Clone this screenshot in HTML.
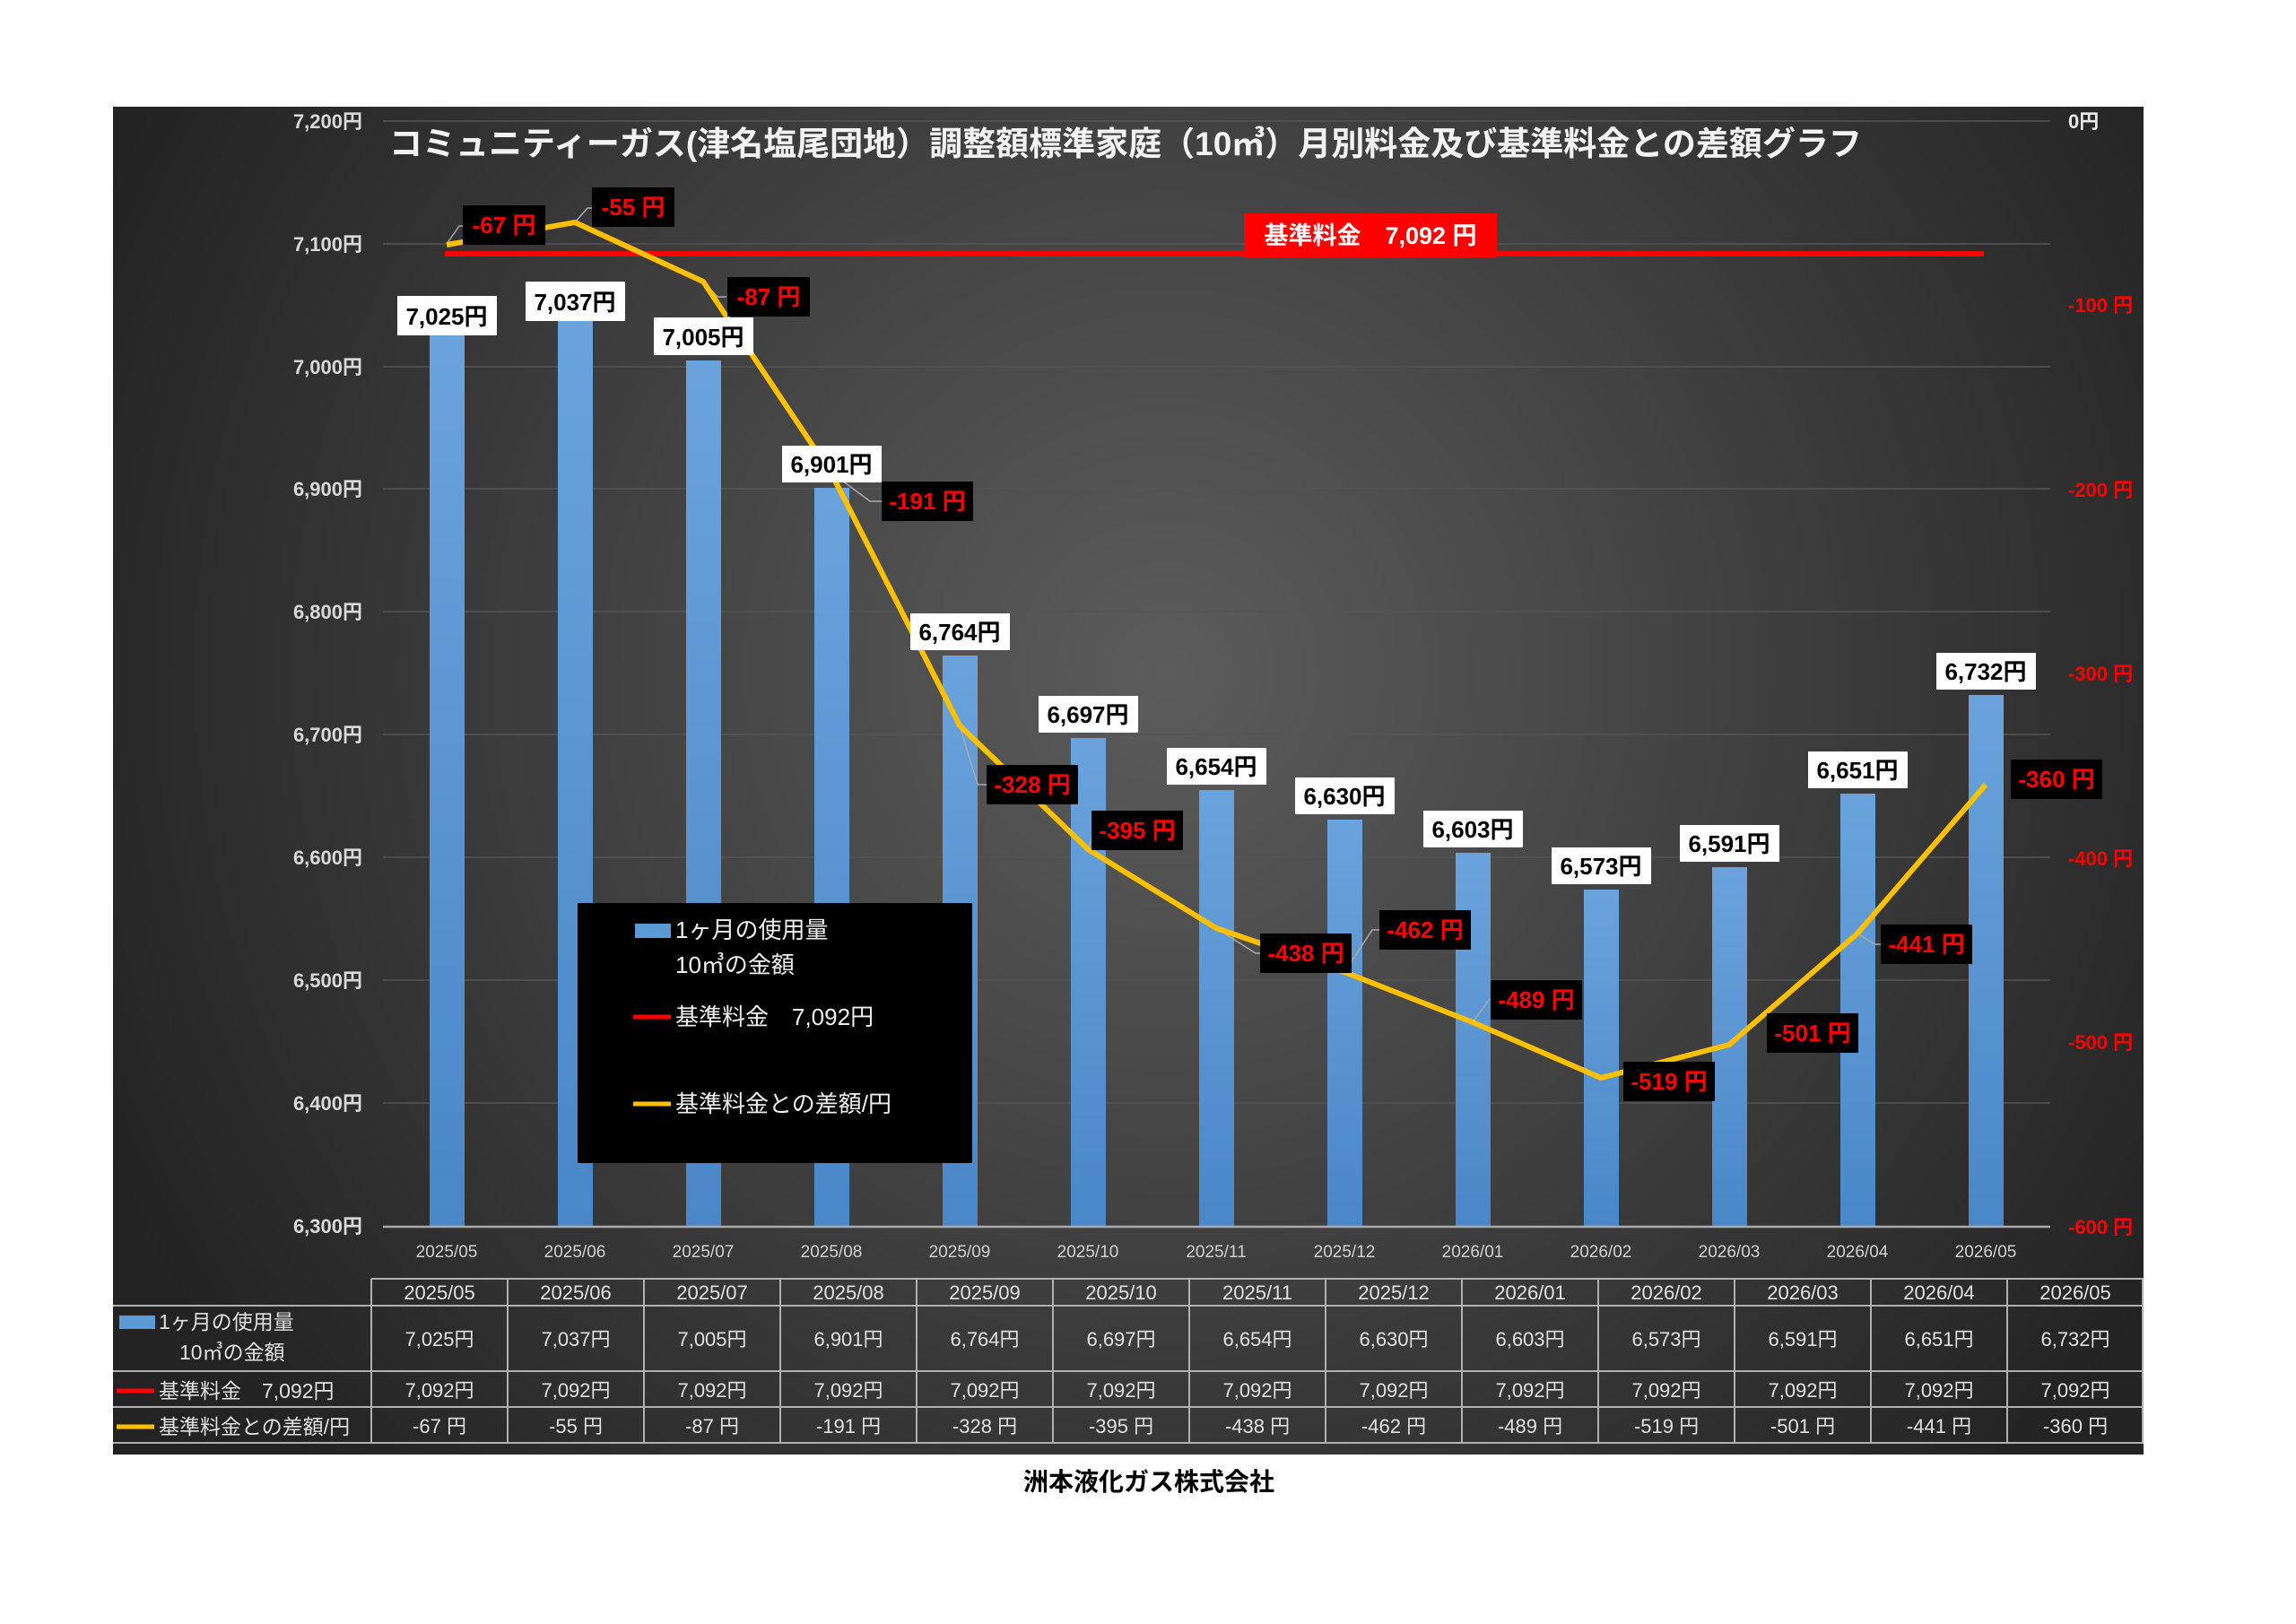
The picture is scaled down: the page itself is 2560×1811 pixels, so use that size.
<!DOCTYPE html>
<html><head><meta charset="utf-8"><style>
html,body{margin:0;padding:0;background:#fff}
svg{display:block}
text{font-family:"Liberation Sans","Noto Sans CJK JP",sans-serif}
</style></head><body>
<svg width="2560" height="1811" viewBox="0 0 2560 1811" xmlns="http://www.w3.org/2000/svg">
<defs>
<radialGradient id="bg" cx="1300" cy="750" r="1300" gradientUnits="userSpaceOnUse">
<stop offset="0" stop-color="#5c5c5c"/><stop offset="0.6" stop-color="#3a3a3a"/><stop offset="1" stop-color="#232323"/>
</radialGradient>
<linearGradient id="bar" x1="0" y1="0" x2="0" y2="1"><stop offset="0" stop-color="#6aa3dc"/><stop offset="1" stop-color="#4a87c8"/></linearGradient>
</defs>
<rect x="126" y="119" width="2264" height="1503" fill="url(#bg)"/>
<g stroke="#555" stroke-width="1.5">
<line x1="427" y1="135" x2="2286" y2="135"/><line x1="427" y1="272" x2="2286" y2="272"/>
<line x1="427" y1="409" x2="2286" y2="409"/><line x1="427" y1="545" x2="2286" y2="545"/>
<line x1="427" y1="682" x2="2286" y2="682"/><line x1="427" y1="819" x2="2286" y2="819"/>
<line x1="427" y1="956" x2="2286" y2="956"/><line x1="427" y1="1093" x2="2286" y2="1093"/>
<line x1="427" y1="1230" x2="2286" y2="1230"/>
</g>
<g fill="#d9d9d9" font-size="22" font-weight="bold" text-anchor="end">
<text x="404" y="143">7,200円</text><text x="404" y="280">7,100円</text><text x="404" y="417">7,000円</text>
<text x="404" y="553">6,900円</text><text x="404" y="690">6,800円</text><text x="404" y="827">6,700円</text>
<text x="404" y="964">6,600円</text><text x="404" y="1101">6,500円</text><text x="404" y="1238">6,400円</text>
<text x="404" y="1375">6,300円</text>
</g>
<g fill="#ff0000" font-size="22" font-weight="bold" text-anchor="start">
<text x="2306" y="143" fill="#e8e8e8">0円</text><text x="2306" y="348">-100 円</text><text x="2306" y="554">-200 円</text>
<text x="2306" y="759">-300 円</text><text x="2306" y="965">-400 円</text><text x="2306" y="1170">-500 円</text>
<text x="2306" y="1376">-600 円</text>
</g>
<text x="1255" y="173" fill="#f2f2f2" font-size="37" font-weight="bold" text-anchor="middle">コミュニティーガス(津名塩尾団地）調整額標準家庭（10㎥）月別料金及び基準料金との差額グラフ</text>
<g fill="url(#bar)">
<rect x="479" y="374" width="39" height="994"/>
<rect x="622" y="358" width="39" height="1010"/>
<rect x="765" y="402" width="39" height="966"/>
<rect x="908" y="544" width="39" height="824"/>
<rect x="1051" y="731" width="39" height="637"/>
<rect x="1194" y="823" width="39" height="545"/>
<rect x="1337" y="881" width="39" height="487"/>
<rect x="1480" y="914" width="39" height="454"/>
<rect x="1623" y="951" width="39" height="417"/>
<rect x="1766" y="992" width="39" height="376"/>
<rect x="1909" y="967" width="39" height="401"/>
<rect x="2052" y="885" width="39" height="483"/>
<rect x="2195" y="775" width="39" height="593"/>
</g>
<line x1="427" y1="1368" x2="2286" y2="1368" stroke="#aaa" stroke-width="2.5"/>
<g fill="#d0d0d0" font-size="19" text-anchor="middle">
<text x="498" y="1402">2025/05</text><text x="641" y="1402">2025/06</text><text x="784" y="1402">2025/07</text>
<text x="927" y="1402">2025/08</text><text x="1070" y="1402">2025/09</text><text x="1213" y="1402">2025/10</text>
<text x="1356" y="1402">2025/11</text><text x="1499" y="1402">2025/12</text><text x="1642" y="1402">2026/01</text>
<text x="1785" y="1402">2026/02</text><text x="1928" y="1402">2026/03</text><text x="2071" y="1402">2026/04</text>
<text x="2214" y="1402">2026/05</text>
</g>
<line x1="496" y1="283" x2="2212" y2="283" stroke="#ff0000" stroke-width="6"/>
<rect x="1387" y="238" width="282" height="49" fill="#ff0000"/>
<text x="1528" y="272" fill="#fff" font-size="27" font-weight="bold" text-anchor="middle">基準料金　7,092 円</text>
<g stroke="#aaa" stroke-width="1.5" fill="none">
<polyline points="498,272 512,252 520,252"/>
<polyline points="641,248 655,232 662,232"/>
<polyline points="784,314 800,331 810,331"/>
<polyline points="927,527 970,559 985,559"/>
<polyline points="1070,809 1090,875 1104,875"/>
<polyline points="1213,947 1220,926"/>
<polyline points="1356,1035 1400,1063 1409,1063"/>
<polyline points="1499,1084 1530,1037 1542,1037"/>
<polyline points="1642,1140 1660,1115 1666,1115"/>
<polyline points="2071,1041 2090,1053 2100,1053"/>
</g>
<polyline fill="none" stroke="#ffc000" stroke-width="6" stroke-linejoin="round" points="498,273 641,248 784,314 927,528 1070,809 1213,947 1356,1035 1499,1084 1642,1140 1785,1202 1928,1165 2071,1041 2214,875"/>
<g font-size="26" font-weight="bold" text-anchor="middle">
<g fill="#fff">
<rect x="443" y="330" width="111" height="44"/><rect x="586" y="314" width="111" height="44"/>
<rect x="729" y="354" width="111" height="42"/><rect x="872" y="497" width="111" height="41"/>
<rect x="1015" y="684" width="111" height="41"/><rect x="1158" y="776" width="111" height="41"/>
<rect x="1301" y="834" width="111" height="41"/><rect x="1444" y="867" width="111" height="41"/>
<rect x="1587" y="904" width="111" height="41"/><rect x="1730" y="945" width="111" height="41"/>
<rect x="1873" y="920" width="111" height="41"/><rect x="2016" y="838" width="111" height="41"/>
<rect x="2159" y="728" width="111" height="41"/>
</g>
<g fill="#000">
<text x="498" y="362">7,025円</text><text x="641" y="346">7,037円</text><text x="784" y="385">7,005円</text>
<text x="927" y="527">6,901円</text><text x="1070" y="714">6,764円</text><text x="1213" y="806">6,697円</text>
<text x="1356" y="864">6,654円</text><text x="1499" y="897">6,630円</text><text x="1642" y="934">6,603円</text>
<text x="1785" y="975">6,573円</text><text x="1928" y="950">6,591円</text><text x="2071" y="868">6,651円</text>
<text x="2214" y="758">6,732円</text>
</g>
</g>
<g font-size="26" font-weight="bold" text-anchor="middle">
<g fill="#000">
<rect x="516" y="229" width="92" height="44"/><rect x="660" y="209" width="92" height="44"/>
<rect x="811" y="309" width="92" height="44"/><rect x="983" y="537" width="102" height="44"/>
<rect x="1100" y="853" width="102" height="44"/><rect x="1217" y="904" width="102" height="44"/>
<rect x="1405" y="1041" width="102" height="44"/><rect x="1538" y="1015" width="102" height="44"/>
<rect x="1662" y="1093" width="102" height="44"/><rect x="1810" y="1184" width="102" height="44"/>
<rect x="1970" y="1130" width="102" height="44"/><rect x="2097" y="1031" width="102" height="44"/>
<rect x="2242" y="847" width="102" height="44"/>
</g>
<g fill="#ff0000">
<text x="562" y="260">-67 円</text><text x="706" y="240">-55 円</text><text x="857" y="340">-87 円</text>
<text x="1034" y="568">-191 円</text><text x="1151" y="884">-328 円</text><text x="1268" y="935">-395 円</text>
<text x="1456" y="1072">-438 円</text><text x="1589" y="1046">-462 円</text><text x="1713" y="1124">-489 円</text>
<text x="1861" y="1215">-519 円</text><text x="2021" y="1161">-501 円</text><text x="2148" y="1062">-441 円</text>
<text x="2293" y="878">-360 円</text>
</g>
</g>
<rect x="644" y="1007" width="440" height="290" fill="#000"/>
<rect x="708" y="1030" width="40" height="16" fill="#5b9bd5"/>
<g fill="#f0f0f0" font-size="26">
<text x="753" y="1046">1ヶ月の使用量</text>
<text x="753" y="1085">10㎥の金額</text>
<text x="753" y="1143">基準料金　7,092円</text>
<text x="753" y="1240">基準料金との差額/円</text>
</g>
<line x1="706" y1="1134" x2="748" y2="1134" stroke="#ff0000" stroke-width="5"/>
<line x1="706" y1="1231" x2="748" y2="1231" stroke="#ffc000" stroke-width="5"/>
<g stroke="#b0b0b0" stroke-width="2">
<line x1="414" y1="1426" x2="2390" y2="1426"/>
<line x1="126" y1="1456" x2="2390" y2="1456"/>
<line x1="126" y1="1529" x2="2390" y2="1529"/>
<line x1="126" y1="1569" x2="2390" y2="1569"/>
<line x1="126" y1="1609" x2="2390" y2="1609"/>
<line x1="414" y1="1426" x2="414" y2="1609"/><line x1="566" y1="1426" x2="566" y2="1609"/>
<line x1="718" y1="1426" x2="718" y2="1609"/><line x1="870" y1="1426" x2="870" y2="1609"/>
<line x1="1022" y1="1426" x2="1022" y2="1609"/><line x1="1174" y1="1426" x2="1174" y2="1609"/>
<line x1="1326" y1="1426" x2="1326" y2="1609"/><line x1="1478" y1="1426" x2="1478" y2="1609"/>
<line x1="1630" y1="1426" x2="1630" y2="1609"/><line x1="1782" y1="1426" x2="1782" y2="1609"/>
<line x1="1934" y1="1426" x2="1934" y2="1609"/><line x1="2086" y1="1426" x2="2086" y2="1609"/>
<line x1="2238" y1="1426" x2="2238" y2="1609"/><line x1="2389" y1="1426" x2="2389" y2="1609"/>
</g>
<g fill="#e0e0e0" font-size="22" text-anchor="middle">
<text x="490" y="1449">2025/05</text><text x="642" y="1449">2025/06</text><text x="794" y="1449">2025/07</text><text x="946" y="1449">2025/08</text><text x="1098" y="1449">2025/09</text><text x="1250" y="1449">2025/10</text><text x="1402" y="1449">2025/11</text><text x="1554" y="1449">2025/12</text><text x="1706" y="1449">2026/01</text><text x="1858" y="1449">2026/02</text><text x="2010" y="1449">2026/03</text><text x="2162" y="1449">2026/04</text><text x="2314" y="1449">2026/05</text>
<text x="490" y="1501">7,025円</text><text x="642" y="1501">7,037円</text><text x="794" y="1501">7,005円</text><text x="946" y="1501">6,901円</text><text x="1098" y="1501">6,764円</text><text x="1250" y="1501">6,697円</text><text x="1402" y="1501">6,654円</text><text x="1554" y="1501">6,630円</text><text x="1706" y="1501">6,603円</text><text x="1858" y="1501">6,573円</text><text x="2010" y="1501">6,591円</text><text x="2162" y="1501">6,651円</text><text x="2314" y="1501">6,732円</text>
<text x="490" y="1558">7,092円</text><text x="642" y="1558">7,092円</text><text x="794" y="1558">7,092円</text><text x="946" y="1558">7,092円</text><text x="1098" y="1558">7,092円</text><text x="1250" y="1558">7,092円</text><text x="1402" y="1558">7,092円</text><text x="1554" y="1558">7,092円</text><text x="1706" y="1558">7,092円</text><text x="1858" y="1558">7,092円</text><text x="2010" y="1558">7,092円</text><text x="2162" y="1558">7,092円</text><text x="2314" y="1558">7,092円</text>
<text x="490" y="1598">-67 円</text><text x="642" y="1598">-55 円</text><text x="794" y="1598">-87 円</text><text x="946" y="1598">-191 円</text><text x="1098" y="1598">-328 円</text><text x="1250" y="1598">-395 円</text><text x="1402" y="1598">-438 円</text><text x="1554" y="1598">-462 円</text><text x="1706" y="1598">-489 円</text><text x="1858" y="1598">-519 円</text><text x="2010" y="1598">-501 円</text><text x="2162" y="1598">-441 円</text><text x="2314" y="1598">-360 円</text>
</g>
<rect x="133" y="1467" width="40" height="15" fill="#5b9bd5"/>
<line x1="130" y1="1551" x2="172" y2="1551" stroke="#ff0000" stroke-width="5"/>
<line x1="130" y1="1591" x2="172" y2="1591" stroke="#ffc000" stroke-width="5"/>
<g fill="#e0e0e0" font-size="23">
<text x="177" y="1482">1ヶ月の使用量</text>
<text x="200" y="1516">10㎥の金額</text>
<text x="177" y="1559">基準料金　7,092円</text>
<text x="177" y="1599">基準料金との差額/円</text>
</g>
<text x="1281" y="1662" fill="#000" font-size="28" font-weight="bold" text-anchor="middle">洲本液化ガス株式会社</text>
</svg>
</body></html>
